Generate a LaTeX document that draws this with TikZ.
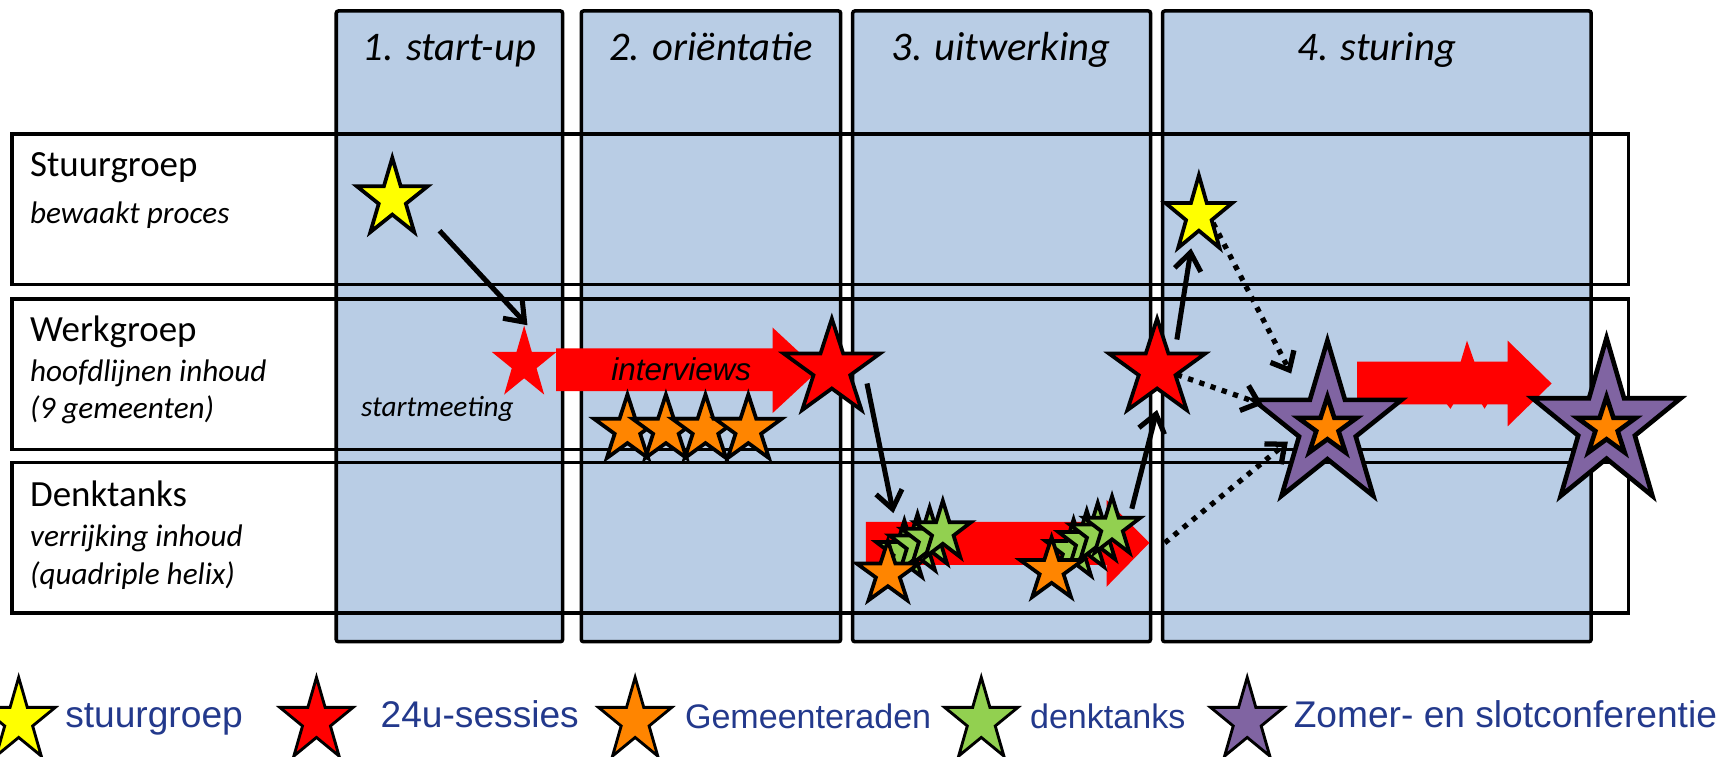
\documentclass[tikz,border=0pt]{standalone}
\usepackage{fontspec}
\setmainfont{Carlito}
\newfontfamily\arialf{Liberation Sans}
\usetikzlibrary{shapes.geometric,arrows.meta,calc}
\definecolor{colblue}{RGB}{185,205,229}
\definecolor{starred}{RGB}{255,0,0}
\definecolor{staryellow}{RGB}{255,255,0}
\definecolor{starorange}{RGB}{255,133,0}
\definecolor{stargreen}{RGB}{146,208,80}
\definecolor{starpurple}{RGB}{128,100,162}
\definecolor{legblue}{RGB}{35,57,140}
\begin{document}
\begin{tikzpicture}[x=0.5pt,y=-0.5pt,
  colbox/.style={fill=colblue,draw=black,line width=1.6pt,rounded corners=1pt},
  rowbox/.style={draw=black,line width=1.6pt},
  st/.style={star,star points=5,star point ratio=2.618,inner sep=0pt,draw=black,line width=1.7pt},
  hdr/.style={anchor=base,inner sep=0pt,font=\fontsize{18.5}{22}\selectfont\itshape},
  rowtitle/.style={anchor=base west,inner sep=0pt,font=\fontsize{16.8}{20}\selectfont},
  rowsub/.style={anchor=base west,inner sep=0pt,font=\fontsize{14.2}{17}\selectfont\itshape},
  legbig/.style={anchor=base west,inner sep=0pt,text=legblue,font=\arialf\fontsize{16.9}{20}\selectfont},
  legsmall/.style={anchor=base west,inner sep=0pt,text=legblue,font=\arialf\fontsize{15.5}{18}\selectfont},
  arr/.style={line width=2.3pt,-{Straight Barb[length=8pt,width=12pt]}},
  dotarr/.style={line width=2.4pt,dash pattern=on 2.4pt off 3pt,-{Straight Barb[length=7pt,width=12pt]}},
  fat/.style={fill=starred,draw=none}
]
\useasboundingbox (0,0) rectangle (1568,688);

% columns
\draw[colbox] (306,10) rectangle (512,584);
\draw[colbox] (529,10) rectangle (765,584);
\draw[colbox] (776,10) rectangle (1047,584);
\draw[colbox] (1058,10) rectangle (1448,584);

% rows
\draw[rowbox] (11,122) rectangle (1482,259);
\draw[rowbox] (11,272) rectangle (1482,409);
\draw[rowbox] (11,421) rectangle (1482,558);

% headers
\node[hdr] (h1) at (409,55) {1. start-up};
\node[hdr] (h2) at (647,55) {2. ori\"entatie};
\node[hdr] (h3) at (911,55) {3. uitwerking};
\node[hdr] (h4) at (1253,55) {4. sturing};

% row labels
\node[rowtitle] (t1) at (27,161) {Stuurgroep};
\node[rowsub] (s1) at (27,203) {bewaakt proces};
\node[rowtitle] (t2) at (27,311) {Werkgroep};
\node[rowsub] (s2a) at (27,347) {hoofdlijnen inhoud};
\node[rowsub] (s2b) at (27,381) {(9 gemeenten)};
\node[rowtitle] (t3) at (27,461) {Denktanks};
\node[rowsub] (s3a) at (27,497) {verrijking inhoud};
\node[rowsub] (s3b) at (27,532) {(quadriple helix)};

\node[anchor=base,inner sep=0pt,font=\fontsize{13.3}{16}\selectfont\itshape] (sm) at (398,379) {startmeeting};

% fat red arrows
\fill[fat] (506,317) -- (703,317) -- (703,298) -- (745,337) -- (703,376) -- (703,356) -- (506,356) -- cycle;
\fill[fat] (788,475) -- (1007,475) -- (1007,455) -- (1046,494) -- (1007,534) -- (1007,514) -- (788,514) -- cycle;
\coordinate (F2tip) at (1046,494);
\fill[fat] (1235,329) -- (1372,329) -- (1372,310) -- (1412,349) -- (1372,388) -- (1372,368) -- (1235,368) -- cycle;
\fill[fat] (1329,330) -- (1335,310) -- (1342,330) -- cycle;
\fill[fat] (1316,367) -- (1320,372) -- (1323,367) -- cycle;
\fill[fat] (1348,367) -- (1351,372) -- (1354,367) -- cycle;
\node[anchor=base,inner sep=0pt,font=\arialf\fontsize{14.3}{17}\selectfont\itshape] (iv) at (620,346) {interviews};

% stars
\node[st,fill=staryellow,minimum size=34pt,yscale=1.1] (Y1) at (357,181) {};
\node[st,draw=none,fill=starred,minimum size=31pt,yscale=1.12] (R1) at (477,331) {};
\node[st,fill=starorange,minimum size=32pt] (O1) at (571,391) {};
\node[st,fill=starorange,minimum size=32pt] (O2) at (606,391) {};
\node[st,fill=starorange,minimum size=32pt] (O3) at (642,391) {};
\node[st,fill=starorange,minimum size=32pt] (O4) at (681,391) {};
\node[st,fill=starred,minimum size=46pt] (R2) at (757,336) {};
\node[st,fill=starred,minimum size=46pt] (R3) at (1053,336) {};
\node[st,fill=staryellow,minimum size=32pt,yscale=1.14] (Y2) at (1091,196) {};
\node[st,fill=stargreen,minimum size=27pt,yscale=1.05] (LG1) at (823,502) {};
\node[st,fill=stargreen,minimum size=27pt,yscale=1.05] (LG2) at (835,496) {};
\node[st,fill=stargreen,minimum size=27pt,yscale=1.05] (LG3) at (846,490) {};
\node[st,fill=stargreen,minimum size=27pt,yscale=1.05] (LG4) at (858,484) {};
\node[st,fill=starorange,minimum size=30pt] (LO) at (808,522) {};
\node[st,fill=stargreen,minimum size=27pt,yscale=1.05] (RG1) at (977,501) {};
\node[st,fill=stargreen,minimum size=27pt,yscale=1.05] (RG2) at (989,493) {};
\node[st,fill=stargreen,minimum size=27pt,yscale=1.05] (RG3) at (999,486) {};
\node[st,fill=stargreen,minimum size=27pt,yscale=1.05] (RG4) at (1012,480) {};
\node[st,fill=starorange,minimum size=30pt] (RO) at (957,519) {};
\node[st,fill=starpurple,line width=2.1pt,minimum size=71pt,yscale=1.1] (P1) at (1208,388) {};
\node[st,fill=starorange,line width=2.1pt,minimum size=28pt] (PO1) at (1208,389) {};
\node[st,fill=starpurple,line width=2.1pt,minimum size=71pt,yscale=1.12] (P2) at (1462,387) {};
\node[st,fill=starorange,line width=2.1pt,minimum size=28pt] (PO2) at (1462,389) {};

% connectors
\draw[arr] ($(Y1)+(43,29)$) -- ($(R1)+(3,-35)$);
\draw[arr] ($(R2)+(32,13)$) -- ($(LO)+(5,-55)$);
\draw[arr] ($(RG4)+(18,-17)$) -- ($(R3)+(0,37)$);
\draw[arr] ($(R3)+(18,-27)$) -- ($(Y2)+(-7,30)$);
\draw[dotarr] ($(Y2)+(13,7)$) -- ($(P1)+(-33,-48)$);
\draw[dotarr] ($(R3)+(18,5)$) -- ($(P1)+(-59,-20)$);
\draw[dotarr] ($(F2tip)+(14,0)$) -- ($(P1)+(-36,14)$);

% legend
\node[st,fill=staryellow,line width=1.3pt,minimum size=35pt,yscale=1.13] (L1) at (17,656) {};
\node[legbig] (lt1) at (59,662) {stuurgroep};
\node[st,fill=starred,line width=1.3pt,minimum size=35pt,yscale=1.13] (L2) at (288,656) {};
\node[legbig] (lt2) at (346,662) {24u-sessies};
\node[st,fill=starorange,line width=1.3pt,minimum size=35pt,yscale=1.13] (L3) at (578,656) {};
\node[legsmall] (lt3) at (623,663) {Gemeenteraden};
\node[st,fill=stargreen,line width=1.3pt,minimum size=35pt,yscale=1.13] (L4) at (893,656) {};
\node[legsmall] (lt4) at (937,663) {denktanks};
\node[st,fill=starpurple,line width=1.3pt,minimum size=35pt,yscale=1.13] (L5) at (1135,656) {};
\node[legbig] (lt5) at (1177,662) {Zomer- en slotconferentie};
\end{tikzpicture}
\end{document}
